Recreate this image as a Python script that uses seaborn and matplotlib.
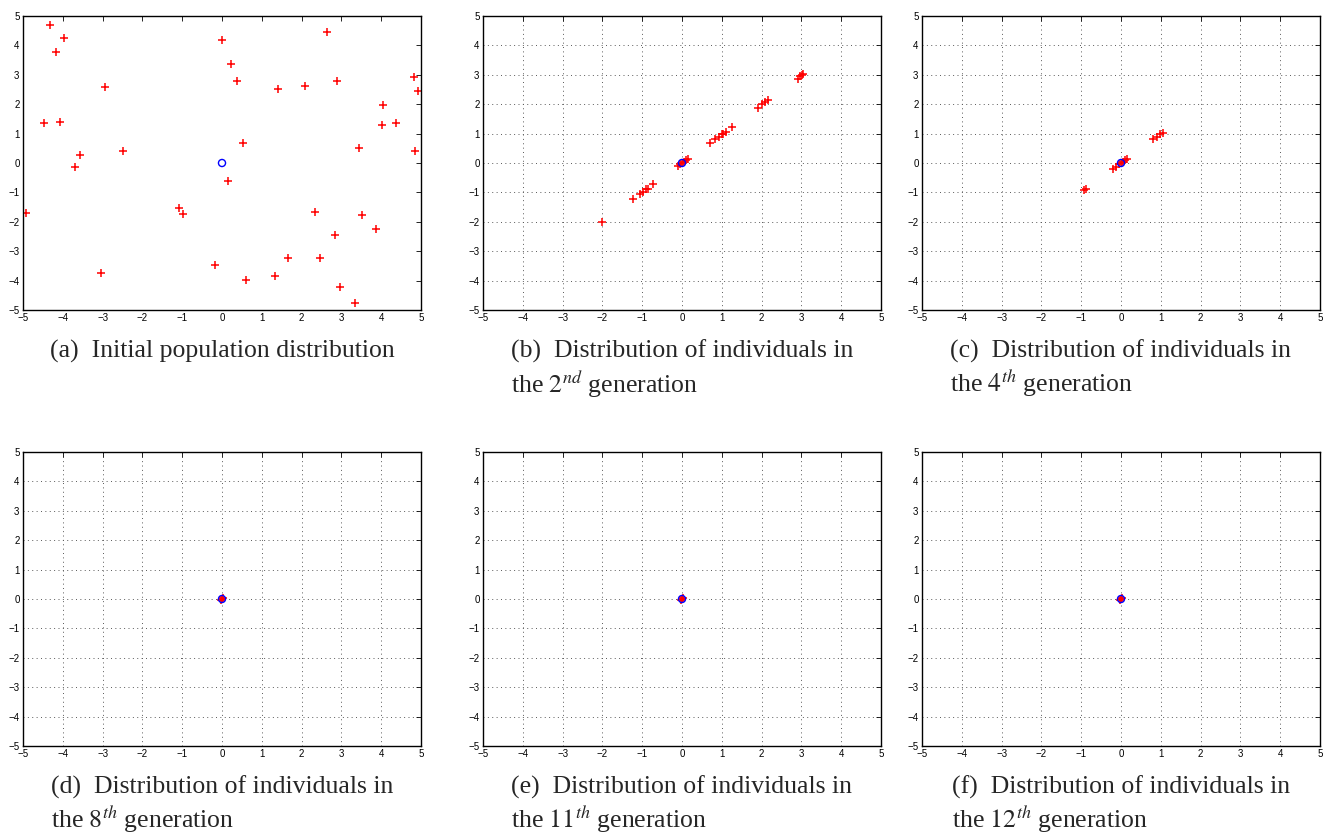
import seaborn as sns
import matplotlib.pyplot as plt

# (a) initial population
init_x = [-4.33, -3.98, -4.17, -2.95, -4.48, -4.08, -3.56, -3.70, -2.49, -4.92,
          -3.03, -1.08, -0.97, -0.17, 0.00, 0.22, 0.38, 0.52, 0.16, 0.61,
          1.41, 1.32, 1.66, 2.09, 2.63, 2.88, 2.33, 2.46, 2.84, 2.97,
          3.33, 3.44, 3.53, 3.87, 4.05, 4.02, 4.37, 4.82, 4.93, 4.85]
init_y = [4.68, 4.24, 3.79, 2.57, 1.36, 1.38, 0.28, -0.12, 0.42, -1.71,
          -3.75, -1.52, -1.73, -3.47, 4.17, 3.38, 2.80, 0.67, -0.61, -3.98,
          2.52, -3.84, -3.24, 2.63, 4.44, 2.80, -1.68, -3.24, -2.45, -4.21,
          -4.77, 0.50, -1.76, -2.26, 1.97, 1.30, 1.36, 2.91, 2.46, 0.42]

# (b) 2nd generation
gen2_x = [-2.00, -1.23, -1.05, -0.98, -0.91, -0.86, -0.72,
          -0.10, -0.05, 0.00, 0.05, 0.10, 0.15,
          0.71, 0.83, 0.94, 1.00, 1.04, 1.10, 1.25,
          1.90, 2.02, 2.09, 2.17,
          2.91, 2.97, 3.02, 3.05]
gen2_y = [-2.00, -1.24, -1.05, -0.98, -0.90, -0.87, -0.72,
          -0.10, -0.05, 0.00, 0.05, 0.10, 0.12,
          0.69, 0.82, 0.90, 0.97, 1.00, 1.05, 1.22,
          1.88, 2.00, 2.08, 2.15,
          2.87, 2.95, 3.00, 3.02]

# (c) 4th generation
gen4_x = [-0.94, -0.88, -0.20, -0.12, -0.05, 0.00, 0.05, 0.10, 0.15,
          0.80, 0.90, 0.97, 1.05]
gen4_y = [-0.92, -0.90, -0.20, -0.12, -0.05, 0.00, 0.05, 0.10, 0.15,
          0.80, 0.90, 0.97, 1.03]

# (d)-(f) converged generations
conv_x = [-0.02, 0.00, 0.02]
conv_y = [-0.02, 0.00, 0.02]

best_x = [0.0]
best_y = [0.0]

ticks = [-5, -4, -3, -2, -1, 0, 1, 2, 3, 4, 5]

captions = [
    "(a)  Initial population distribution",
    "(b)  Distribution of individuals in\nthe $2^{nd}$ generation",
    "(c)  Distribution of individuals in\nthe $4^{th}$ generation",
    "(d)  Distribution of individuals in\nthe $8^{th}$ generation",
    "(e)  Distribution of individuals in\nthe $11^{th}$ generation",
    "(f)  Distribution of individuals in\nthe $12^{th}$ generation",
]
panels = [(init_x, init_y), (gen2_x, gen2_y), (gen4_x, gen4_y),
          (conv_x, conv_y), (conv_x, conv_y), (conv_x, conv_y)]

sns.set_style("white")
plt.rcParams["font.family"] = ["Liberation Sans", "DejaVu Sans"]
plt.rcParams["mathtext.fontset"] = "stix"

W, H = 1323, 833
fig = plt.figure(figsize=(W / 100, H / 100), dpi=100)

lefts = [23, 483, 922]
tops = [16, 452]
aw, ah = 398, 294

for i, (px, py) in enumerate(panels):
    row, col = divmod(i, 3)
    l, t = lefts[col], tops[row]
    ax = fig.add_axes([l / W, 1 - (t + ah) / H, aw / W, ah / H])

    sns.scatterplot(x=px, y=py, ax=ax, marker="+", color="red",
                    s=32, linewidth=1.1)
    sns.scatterplot(x=best_x, y=best_y, ax=ax, marker="o", s=26,
                    facecolors="none", edgecolor="blue", linewidth=1.0)

    ax.set_xlim(-5, 5)
    ax.set_ylim(-5, 5)
    ax.set_xticks(ticks)
    ax.set_yticks(ticks)
    ax.tick_params(direction="in", top=True, right=True, length=3.5,
                   width=0.6, labelsize=7, pad=2.5, colors="black")
    for sp in ax.spines.values():
        sp.set_linewidth(1.0)
        sp.set_color("black")
    if i > 0:
        ax.grid(True, linestyle=(0, (1, 3.5)), color="0.35", linewidth=0.7)
    else:
        ax.grid(False)

    fig.text((l + aw / 2) / W, 1 - (t + ah + 30) / H, captions[i],
             ha="center", va="top", fontsize=18.5, family="Liberation Serif",
             multialignment="left", linespacing=1.15)

plt.savefig("out.png", dpi=100)
plt.close()
